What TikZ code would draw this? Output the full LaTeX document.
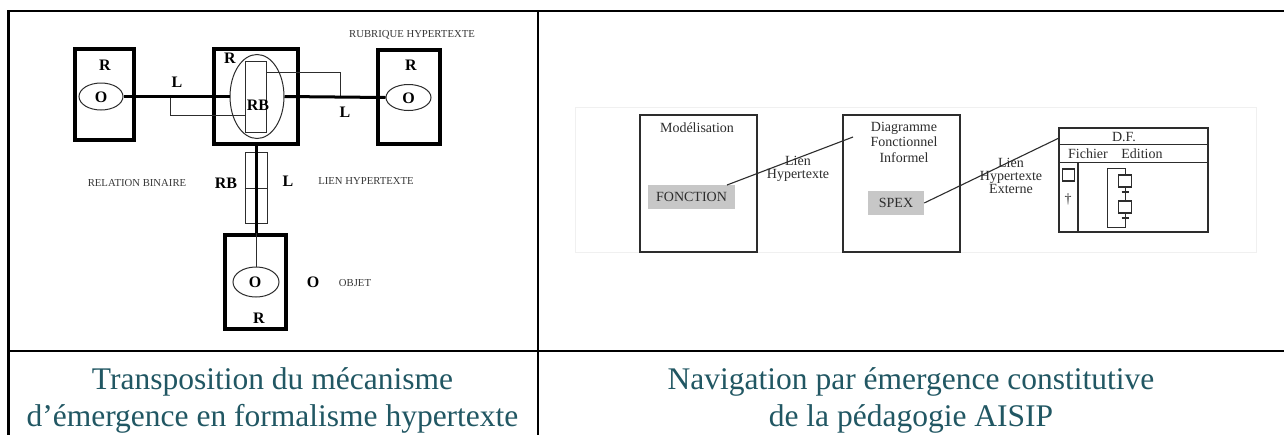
\documentclass[tikz,border=0pt]{standalone}
\usepackage{fontspec}
\setmainfont{Liberation Serif}
\usetikzlibrary{shapes.geometric}
\definecolor{capcol}{RGB}{33,87,99}
\definecolor{ink}{RGB}{45,45,45}
\definecolor{lbl}{RGB}{55,55,55}
\begin{document}
\begin{tikzpicture}[x=1pt,y=-1pt,
  tableline/.style={line width=2.6pt, line cap=rect},
  thickbox/.style={draw=black, line width=4pt, rectangle, inner sep=0pt},
  oval/.style={draw=ink, line width=1pt, ellipse, inner sep=0pt},
  thinrect/.style={draw=ink, line width=1pt, rectangle, inner sep=0pt},
  bigl/.style={font=\fontsize{16}{16}\selectfont\bfseries, inner sep=0pt, text=black},
  smalll/.style={font=\fontsize{10.7}{12}\selectfont, inner sep=0pt, text=lbl},
  conn/.style={line width=3pt, draw=black},
  thinl/.style={line width=1pt, draw=ink},
  frame/.style={draw=ink, line width=1.3pt, rectangle, inner sep=0pt},
  greybox/.style={fill=black!22, rectangle, inner sep=0pt, text=ink, font=\fontsize{14}{16}\selectfont},
  rtext/.style={font=\fontsize{14}{16}\selectfont, text=ink, inner sep=0pt, align=center},
  link/.style={draw=ink, line width=1.1pt},
  caption/.style={font=\fontsize{31.5}{37.7}\selectfont, text=capcol, inner sep=0pt, anchor=base}
]
\useasboundingbox (0,0) rectangle (1284,434);
\fill[white] (0,0) rectangle (1284,434);

% ---------- table ----------
\draw[tableline] (8.3,11) -- (1284,11);
\draw[tableline] (8.3,11) -- (8.3,434);
\draw[tableline] (538,11) -- (538,434);
\draw[tableline] (8.3,351) -- (1284,351);

% ---------- left diagram ----------
\node[thickbox, minimum width=59.3, minimum height=91] (r1) at (104.3,94.2) {};
\node[thickbox, minimum width=84.3, minimum height=94.7] (rc) at (255.8,96.7) {};
\node[thickbox, minimum width=62, minimum height=94] (r3) at (409,97) {};
\node[thickbox, minimum width=61.6, minimum height=94] (r4) at (255.5,282) {};

\node[oval, minimum width=44, minimum height=27] (e1) at (101,96.5) {};
\node[oval, minimum width=54, minimum height=84] (ec) at (257,96.5) {};
\node[oval, minimum width=45, minimum height=26] (e3) at (408.5,97.5) {};
\node[oval, minimum width=46, minimum height=30] (e4) at (256,282) {};

\node[thinrect, minimum width=21, minimum height=71] (rb) at (256,96.5) {};
\node[thinrect, minimum width=22, minimum height=71] (rbv) at (256,187.5) {};
\draw[thinl] (rbv.west |- 0,188) -- (rbv.east |- 0,188);

% brackets
\coordinate (lbk) at (170,96.5);
\coordinate (lbk2) at (170,115);
\draw[thinl] (lbk) -- (lbk2) -- (rb.west |- lbk2);
\coordinate (rbk) at (340,72);
\coordinate (rbk2) at (340,97);
\draw[thinl] (rb.east |- rbk) -- (rbk) -- (rbk2);

% thick connectors
\draw[conn] (e1.east) -- (ec.west);
\draw[conn] (ec.east) -- (e3.west);
\draw[conn] (rc.south -| 256,0) -- (r4.north -| 256,0);
\draw[thinl] (r4.north -| 256,0) -- (e4.north);

% letters
\node[bigl] (tr1) at (105,65) {R};
\node[bigl] (to1) at (101,97) {O};
\node[bigl] (trc) at (230,58) {R};
\node[bigl] (trb) at (258,105) {RB};
\node[bigl] (tr3) at (411,65) {R};
\node[bigl] (to3) at (408.5,98) {O};
\node[bigl] (to4) at (255,282) {O};
\node[bigl] (tr4) at (259,318) {R};
\node[bigl] (tl1) at (177,82) {L};
\node[bigl] (tl2) at (345,112) {L};
\node[bigl] (tl3) at (288,181) {L};
\node[bigl] (trb2) at (226,183) {RB};
\node[bigl] (tob) at (313,282) {O};

\node[smalll] (rub) at (412,35) {RUBRIQUE HYPERTEXTE};
\node[smalll] (relb) at (137,183) {RELATION BINAIRE};
\node[smalll] (lienh) at (366,181) {LIEN HYPERTEXTE};
\node[smalll] (objet) at (355,283) {OBJET};

% ---------- right diagram ----------
\draw[black!6, line width=0.8pt] (575,107) rectangle (1256,252);

\node[frame, minimum width=117, minimum height=137] (mod) at (698.5,183.5) {};
\node[rtext] (modt) at (697,128) {Modélisation};
\node[greybox, minimum width=87, minimum height=24] (fonc) at (691.5,197) {FONCTION};

\node[frame, minimum width=117, minimum height=137] (dfi) at (901.5,183.5) {};
\node[rtext, font=\fontsize{14}{15.5}\selectfont] (dfit) at (904,142) {Diagramme\\Fonctionnel\\Informel};
\node[greybox, minimum width=56, minimum height=24] (spex) at (896,203) {SPEX};

\node[rtext, font=\fontsize{14}{12.5}\selectfont] (lien1) at (798,169) {Lien\\Hypertexte};
\node[rtext, font=\fontsize{14}{13}\selectfont] (lien2) at (1011,176) {Lien\\Hypertexte\\Externe};

\node[frame, minimum width=149, minimum height=104] (win) at (1133.5,180) {};
\draw[frame] (1059,144.3) -- (1208,144.3);
\draw[frame] (1059,162.3) -- (1208,162.3);
\draw[draw=ink, line width=2pt] (1077.5,162.3) -- (1077.5,232);
\node[rtext] (dft) at (1124,137.5) {D.F.};
\node[rtext] (fich) at (1088,154) {Fichier};
\node[rtext] (edit) at (1142,154) {Edition};
\draw[draw=ink, line width=1.5pt] (1062.5,169) rectangle (1074.5,181);
\node[rtext] (dag) at (1068,199) {†};
% grafcet
\draw[draw=ink, line width=1pt] (1125,168) -- (1107,168) -- (1107,227) -- (1125,227) -- (1125,213);
\draw[draw=ink, line width=1pt] (1125,168) -- (1125,175);
\draw[draw=ink, line width=1.2pt] (1118.5,175) rectangle (1131.5,187);
\draw[draw=ink, line width=1pt] (1125,187) -- (1125,201);
\draw[draw=ink, line width=1.2pt] (1118.5,201) rectangle (1131.5,213);
\draw[draw=ink, line width=1.3pt] (1121.5,192) -- (1128.5,192);
\draw[draw=ink, line width=1.3pt] (1121.5,218) -- (1128.5,218);

% hyperlinks
\coordinate (l1a) at (727,185);
\coordinate (l1b) at (853,137);
\draw[link] (l1a) -- (l1b);
\coordinate (l2b) at (1059,138);
\draw[link] (spex.east) -- (l2b);

% ---------- captions ----------
\node[caption] (capa1) at (272.5,389) {Transposition du mécanisme};
\node[caption] (capa2) at (272.5,426.7) {d’émergence en formalisme hypertexte};
\node[caption] (capb1) at (911,389) {Navigation par émergence constitutive};
\node[caption] (capb2) at (911,426.7) {de la pédagogie AISIP};
\end{tikzpicture}
\end{document}
